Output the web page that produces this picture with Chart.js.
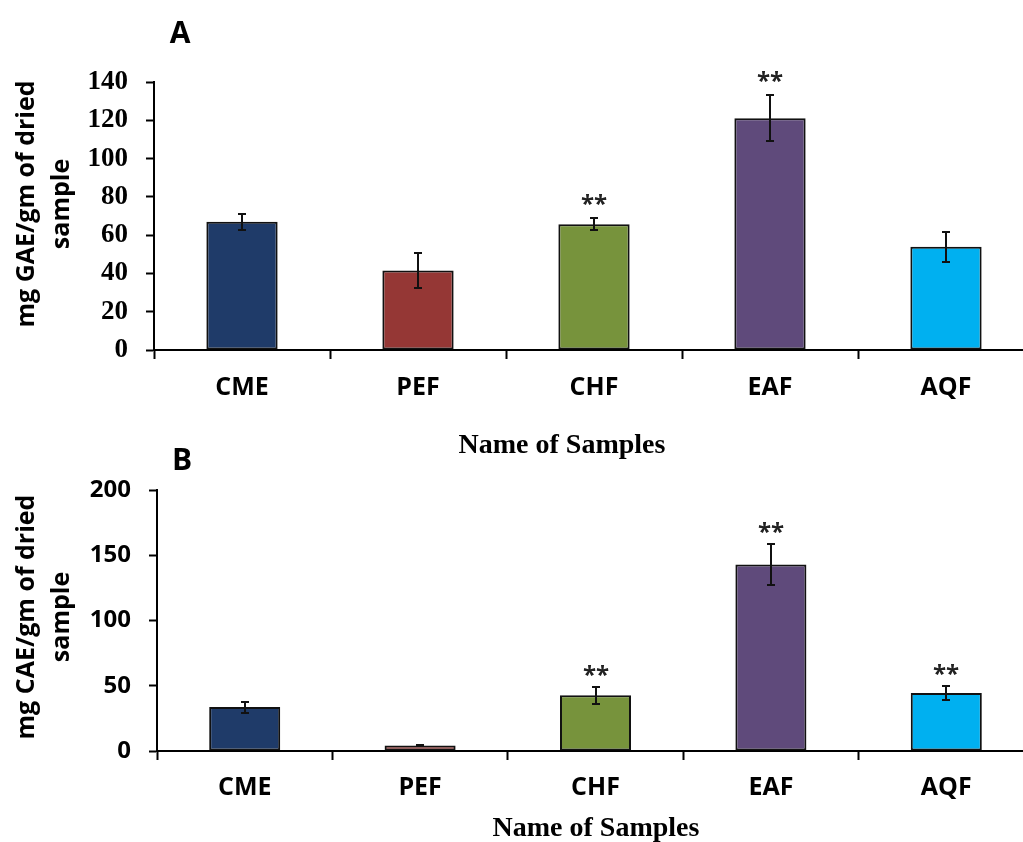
<!DOCTYPE html>
<html>
<head>
<meta charset="utf-8">
<script src="https://cdn.jsdelivr.net/npm/chart.js@4/dist/chart.umd.min.js"></script>
<style>
  html, body { margin: 0; padding: 0; background: #fff; overflow: hidden; width: 1023px; height: 842px; position: relative; }
  .panel { position: absolute; left: 0; }
  #panelA { top: 0; }
  #panelB { top: 430px; }
</style>
</head>
<body>
<div class="panel" id="panelA"><canvas id="chartA" width="1040" height="470"></canvas></div>
<div class="panel" id="panelB"><canvas id="chartB" width="1040" height="412"></canvas></div>
<script>
// Sample fractions
const categories = ['CME', 'PEF', 'CHF', 'EAF', 'AQF'];

// Panel A: total phenolic content (mg GAE/gm of dried sample)
const phenolicMeans  = [67.0, 41.5, 65.7, 121.0, 54.0];
const phenolicErrors = [4.3, 9.0, 3.0, 12.0, 7.8];
const phenolicMarks  = ['', '', '**', '**', ''];
const phenolicTicks  = [0, 20, 40, 60, 80, 100, 120, 140];

// Panel B: total flavonoid content (mg CAE/gm of dried sample)
const flavonoidMeans  = [33.7, 4.2, 42.7, 143.0, 44.5];
const flavonoidErrors = [4.2, 0.4, 6.4, 16.0, 5.4];
const flavonoidMarks  = ['', '', '**', '**', '**'];
const flavonoidTicks  = [0, 50, 100, 150, 200];

// Fill colour for each fraction
const barColors = ['#1F3B69', '#953735', '#77933C', '#5F4A7B', '#00B0F0'];

// Error bars and significance stars on top of each bar
const errorBars = {
  id: 'errorBars',
  afterDatasetsDraw(chart, args, o) {
    const ctx = chart.ctx;
    const y = chart.scales.y;
    const values = chart.data.datasets[0].data;
    const meta = chart.getDatasetMeta(0);
    ctx.save();
    ctx.strokeStyle = '#111';
    ctx.lineWidth = 2;
    meta.data.forEach((bar, i) => {
      const x = Math.round(bar.x);
      const top = Math.round(y.getPixelForValue(values[i] + o.errors[i]));
      const bot = Math.round(y.getPixelForValue(values[i] - o.errors[i]));
      ctx.beginPath();
      ctx.moveTo(x, top); ctx.lineTo(x, bot);
      ctx.moveTo(x - 4, top); ctx.lineTo(x + 4, top);
      ctx.moveTo(x - 4, bot); ctx.lineTo(x + 4, bot);
      ctx.stroke();
      if (o.marks[i]) {
        ctx.fillStyle = '#222';
        ctx.font = o.markFont;
        ctx.textAlign = 'center';
        ctx.textBaseline = 'alphabetic';
        ctx.fillText(o.marks[i], x, top + o.markOffset);
      }
    });
    ctx.restore();
  }
};

// Panel letter, axis titles
const panelText = {
  id: 'panelText',
  afterDraw(chart, args, o) {
    const ctx = chart.ctx;
    ctx.save();
    ctx.fillStyle = '#000';
    ctx.textAlign = 'center';
    ctx.textBaseline = 'middle';
    ctx.font = o.letterFont;
    ctx.fillText(o.letter, o.letterX, o.letterY);
    ctx.font = o.xTitleFont;
    ctx.fillText(o.xTitle, o.xTitleX, o.xTitleY);
    ctx.translate(o.yTitleX, o.yTitleY);
    ctx.rotate(-Math.PI / 2);
    ctx.font = o.yTitleFont;
    o.yTitle.forEach((line, k) => ctx.fillText(line, 0, k * o.yTitleGap));
    ctx.restore();
  }
};

function buildChart(canvasId, cfg) {
  return new Chart(document.getElementById(canvasId), {
    type: 'bar',
    data: {
      labels: categories,
      datasets: [{
        data: cfg.values,
        backgroundColor: barColors,
        borderColor: '#111',
        borderWidth: 2,
        borderSkipped: false,
        categoryPercentage: 1,
        barPercentage: 0.405
      }]
    },
    options: {
      responsive: false,
      devicePixelRatio: 1,
      animation: false,
      events: [],
      layout: { padding: { left: 0, top: cfg.padTop, right: 6, bottom: 0 } },
      plugins: {
        legend: { display: false },
        tooltip: { enabled: false },
        errorBars: { errors: cfg.errors, marks: cfg.marks, markFont: '700 24px "Open Sans"', markOffset: cfg.markOffset },
        panelText: cfg.text
      },
      scales: {
        x: {
          offset: true,
          grid: { display: true, drawOnChartArea: false, drawTicks: true, tickLength: 9, tickWidth: 2, tickColor: '#000', offset: true },
          border: { display: true, color: '#000', width: 2 },
          ticks: { color: '#000', font: cfg.xFont, padding: cfg.xPad, maxRotation: 0 },
          afterFit: s => { s.height = cfg.xHeight; }
        },
        y: {
          min: cfg.ticks[0],
          max: cfg.ticks[cfg.ticks.length - 1],
          grid: { display: true, drawOnChartArea: false, drawTicks: true, tickLength: 8, tickWidth: 2, tickColor: '#000' },
          border: { display: true, color: '#000', width: 2 },
          ticks: { color: '#000', font: cfg.yFont, padding: 18 },
          afterBuildTicks: s => { s.ticks = cfg.ticks.map(v => ({ value: v })); },
          afterFit: s => { s.width = cfg.yWidth; }
        }
      }
    },
    plugins: [errorBars, panelText]
  });
}

buildChart('chartA', {
  values: phenolicMeans, errors: phenolicErrors, marks: phenolicMarks, ticks: phenolicTicks,
  padTop: 82, xHeight: 120, yWidth: 154, xPad: 14, markOffset: -6,
  xFont: { family: '"Open Sans"', weight: '700', size: 25 },
  yFont: { family: '"Liberation Serif"', weight: '700', size: 27 },
  text: {
    letter: 'A', letterX: 180, letterY: 34, letterFont: '700 30px "Open Sans"',
    xTitle: 'Name of Samples', xTitleX: 562, xTitleY: 446, xTitleFont: '700 28px "Liberation Serif"',
    yTitle: ['mg GAE/gm of dried', 'sample'], yTitleX: 27, yTitleY: 204, yTitleGap: 35,
    yTitleFont: '700 25px "Open Sans"'
  }
});

buildChart('chartB', {
  values: flavonoidMeans, errors: flavonoidErrors, marks: flavonoidMarks, ticks: flavonoidTicks,
  padTop: 60, xHeight: 91, yWidth: 157, xPad: 13, markOffset: -4,
  xFont: { family: '"Open Sans"', weight: '700', size: 25 },
  yFont: { family: '"Open Sans"', weight: '700', size: 24 },
  text: {
    letter: 'B', letterX: 182, letterY: 31, letterFont: '700 30px "Open Sans"',
    xTitle: 'Name of Samples', xTitleX: 596, xTitleY: 399, xTitleFont: '700 28px "Liberation Serif"',
    yTitle: ['mg CAE/gm of dried', 'sample'], yTitleX: 27, yTitleY: 187, yTitleGap: 35,
    yTitleFont: '700 25px "Open Sans"'
  }
});
</script>
</body>
</html>
